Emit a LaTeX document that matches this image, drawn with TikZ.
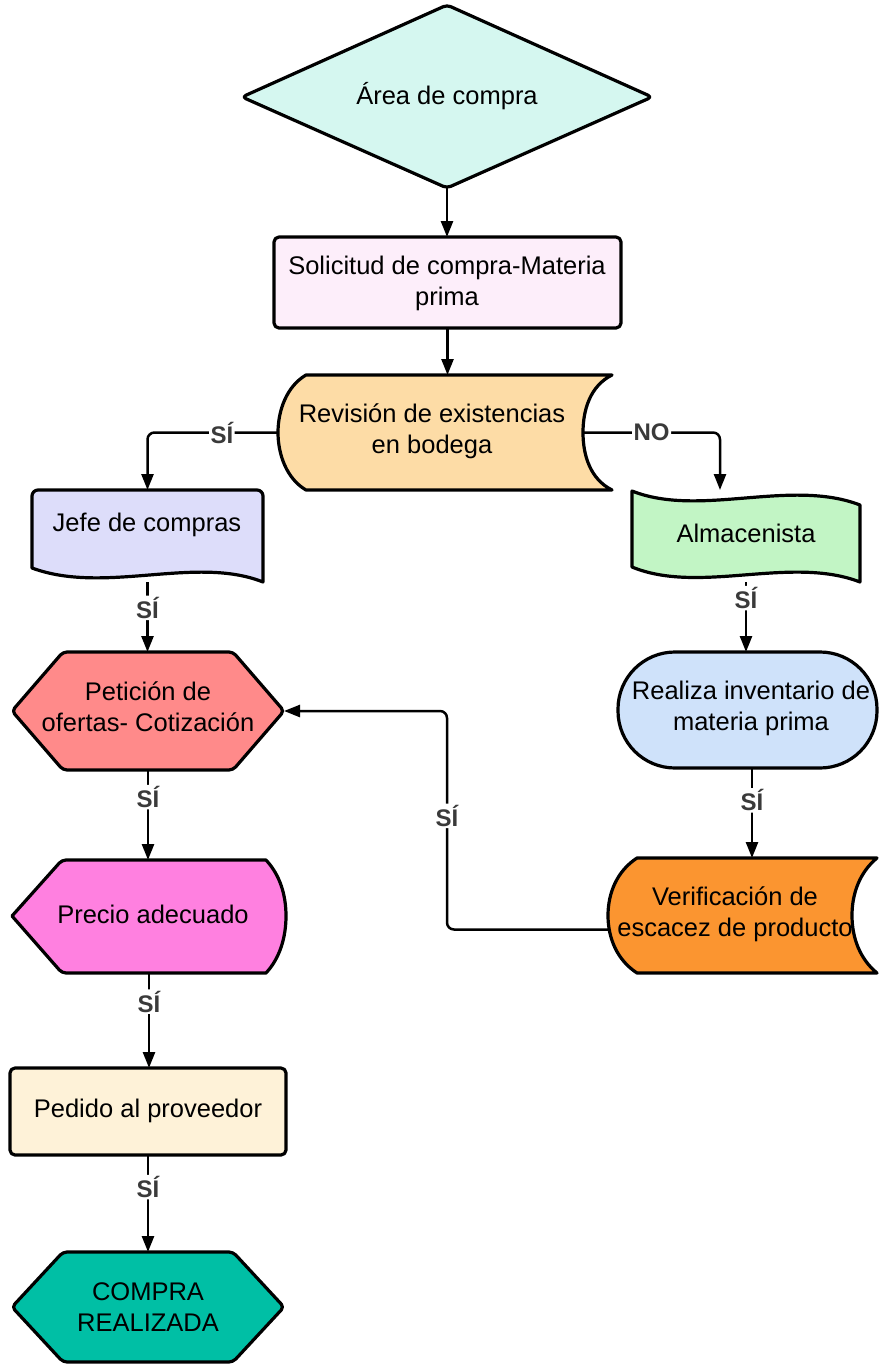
\documentclass[tikz,border=0pt]{standalone}
\usepackage{fontspec}
\setmainfont{Liberation Sans}
\usetikzlibrary{arrows.meta,calc}
\pgfdeclarelayer{background}
\pgfsetlayers{background,main}
\definecolor{cA}{RGB}{213,247,240}
\definecolor{cB}{RGB}{253,238,250}
\definecolor{cC}{RGB}{253,220,166}
\definecolor{cD}{RGB}{221,221,250}
\definecolor{cE}{RGB}{194,245,197}
\definecolor{cF}{RGB}{255,138,138}
\definecolor{cG}{RGB}{207,226,250}
\definecolor{cH}{RGB}{255,128,224}
\definecolor{cI}{RGB}{251,149,48}
\definecolor{cJ}{RGB}{254,242,216}
\definecolor{cK}{RGB}{0,191,165}
\definecolor{labgray}{RGB}{58,58,58}
\tikzset{
  shp/.style={draw=black, line width=3.2pt, line join=round},
  box/.style={inner sep=0pt, outer sep=0pt},
  txt/.style={align=center, inner sep=0pt, font=\fontsize{25.5}{31}\selectfont},
  conn/.style={draw=black, line width=2.5pt, rounded corners=7pt, -{Triangle[length=16pt,width=12pt]}},
  lab/.style={fill=white, inner sep=1.5pt, text=labgray, font=\fontsize{24}{26}\selectfont\bfseries}
}
\begin{document}
\begin{tikzpicture}[x=1pt,y=-1pt]
\useasboundingbox (0,0) rectangle (878,1365);
% ---------- shapes ----------
\filldraw[shp, fill=cA, rounded corners=4pt] (447,5) -- (652,97) -- (447,188) -- (242,97) -- cycle;
\node[box, minimum width=410pt, minimum height=183pt] (a) at (447,96.5) {};
\node[txt] (ta) at (447,96) {Área de compra};

\filldraw[shp, fill=cB, rounded corners=5pt] (274,237) rectangle (621,328);
\node[box, minimum width=347pt, minimum height=91pt] (b) at (447.5,282.5) {};
\node[txt] (tb) at (447,283) {Solicitud de compra-Materia\\prima};

\filldraw[shp, fill=cC] (306,375) -- (612,375)
  .. controls (590,386) and (583,410) .. (583,432.5)
  .. controls (583,455) and (590,479) .. (612,490)
  -- (306,490)
  .. controls (287,479) and (278,455) .. (278,432.5)
  .. controls (278,410) and (287,386) .. (306,375) -- cycle;
\node[box, minimum width=334pt, minimum height=115pt] (c) at (445,432.5) {};
\node[txt] (tc) at (432,431) {Revisión de existencias\\en bodega};

\filldraw[shp, fill=cD] (32,568) [rounded corners=6pt] -- (32,490) -- (263,490) [sharp corners] -- (263,582)
  .. controls (195,555) and (105,595) .. (32,568) -- cycle;
\node[box, minimum width=231pt, minimum height=92pt] (d) at (147.5,536) {};
\node[txt] (td) at (147,525) {Jefe de compras};

\filldraw[shp, fill=cE] (632,491) .. controls (700,518) and (790,478) .. (860,505)
  -- (860,582) .. controls (790,555) and (700,595) .. (632,567) -- cycle;
\node[box, minimum width=228pt, minimum height=92pt] (e) at (746,536) {};
\node[txt] (te) at (746,533) {Almacenista};

\filldraw[shp, fill=cF, rounded corners=4pt] (12,711) -- (63,652) -- (233,652) -- (284,711) -- (233,770) -- (63,770) -- cycle;
\node[box, minimum width=272pt, minimum height=118pt] (f) at (148,711) {};
\node[txt] (tf) at (148,707) {Petición de\\ofertas- Cotización};

\filldraw[shp, fill=cG, rounded corners=57pt] (618,652) rectangle (877,768);
\node[box, minimum width=259pt, minimum height=116pt] (g) at (747.5,710) {};
\node[txt] (tg) at (751,708) {Realiza inventario de\\materia prima};

\filldraw[shp, fill=cH] (12,916) [rounded corners=4pt] -- (62,860) [sharp corners] -- (266,860)
  .. controls (280,875) and (286,895) .. (286,916)
  .. controls (286,937) and (280,958) .. (266,973)
  [rounded corners=4pt] -- (62,973) [sharp corners] -- cycle;
\node[box, minimum width=274pt, minimum height=113pt] (h) at (149,916.5) {};
\node[txt] (th) at (153,914) {Precio adecuado};

\filldraw[shp, fill=cI] (637,858) -- (877,858)
  .. controls (860,872) and (852,893) .. (852,915.5)
  .. controls (852,938) and (860,959) .. (877,973)
  -- (637,973)
  .. controls (617,960) and (608,938) .. (608,915.5)
  .. controls (608,893) and (617,871) .. (637,858) -- cycle;
\node[box, minimum width=269pt, minimum height=115pt] (i) at (742.5,915.5) {};
\node[txt] (ti) at (735,914) {Verificación de\\escacez de producto};

\filldraw[shp, fill=cJ, rounded corners=5pt] (10,1068) rectangle (286,1155);
\node[box, minimum width=276pt, minimum height=87pt] (j) at (148,1111.5) {};
\node[txt] (tj) at (148,1111) {Pedido al proveedor};

\filldraw[shp, fill=cK, rounded corners=4pt] (12,1307) -- (63,1252) -- (233,1252) -- (284,1307) -- (233,1362) -- (63,1362) -- cycle;
\node[box, minimum width=272pt, minimum height=110pt] (k) at (148,1307) {};
\node[txt] (tk) at (148,1307) {COMPRA\\REALIZADA};

% ---------- connectors ----------
\coordinate (cR) at ($(c.east)+(-29,0)$);
\coordinate (eT) at ($(e.north)+(-26,0)$);
\coordinate (gS) at ($(g.south)+(4.5,0)$);
\coordinate (iW) at ($(i.west)+(1,14)$);
\coordinate (turn) at ($(f.east)+(163,0)$);
\begin{pgfonlayer}{background}
\draw[conn] (a.south) -- (a.south |- b.north);
\draw[conn] (b.south) -- (b.south |- c.north);
\draw[conn] (c.west) -| node[lab, pos=0.215] (l1) {SÍ} (d.north);
\draw[conn] (cR) -| node[lab, pos=0.25] (l2) {NO} (eT);
\draw[conn] (d.south) -- node[lab, pos=0.37] (l3) {SÍ} (d.south |- f.north);
\draw[conn] (e.south) -- node[lab, pos=0.23] (l4) {SÍ} (e.south |- g.north);
\draw[conn] (f.south) -- node[lab, pos=0.3] (l5) {SÍ} (f.south |- h.north);
\draw[conn] (gS) -- node[lab, pos=0.36] (l6) {SÍ} (gS |- i.north);
\draw[conn] (iW) -| node[lab, pos=0.76] (l7) {SÍ} (turn) -- (f.east);
\draw[conn] (h.south) -- node[lab, pos=0.3] (l8) {SÍ} (h.south |- j.north);
\draw[conn] (j.south) -- node[lab, pos=0.33] (l9) {SÍ} (j.south |- k.north);
\end{pgfonlayer}
\end{tikzpicture}
\end{document}
